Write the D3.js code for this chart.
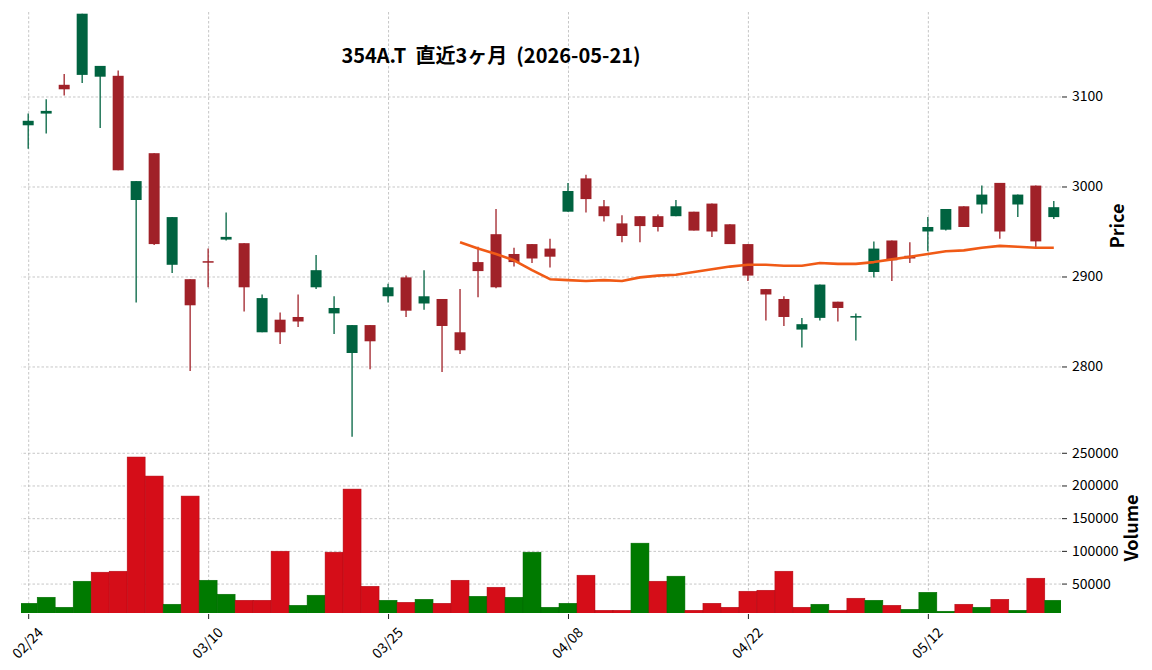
<!DOCTYPE html>
<html>
<head>
<meta charset="utf-8">
<script src="https://cdn.jsdelivr.net/npm/d3@7"></script>
<style>
  body { margin: 0; background: #fff; }
  text { font-family: "Noto Sans CJK JP", "Noto Sans", sans-serif; }
</style>
</head>
<body>
<div id="chart"></div>
<script>
// trading days (MM/DD), 2026-02-24 .. 2026-05-21
var dates = ["02/24","02/25","02/26","02/27","03/02","03/03","03/04","03/05","03/06","03/09",
  "03/10","03/11","03/12","03/13","03/16","03/17","03/18","03/19","03/23","03/24",
  "03/25","03/26","03/27","03/30","03/31","04/01","04/02","04/03","04/06","04/07",
  "04/08","04/09","04/10","04/13","04/14","04/15","04/16","04/17","04/20","04/21",
  "04/22","04/23","04/24","04/27","04/28","04/30","05/01","05/07","05/08","05/11",
  "05/12","05/13","05/14","05/15","05/18","05/19","05/20","05/21"];

var opens  = [3068,3081,3113,3124,3122,3123,2985,3037,2913,2897,
  2917,2941,2937,2838,2852,2855,2888,2859,2815,2846,
  2878,2899,2870,2875,2838,2916,2947,2925,2936,2931,
  2972,3009,2978,2959,2967,2967,2967,2972,2981,2958,
  2936,2886,2875,2841,2854,2872,2855,2905,2940,2923,
  2950,2952,2978,2980,3004,2980,3001,2966];
var highs  = [3081,3097,3125,3192,3134,3129,3006,3037,2966,2897,
  2931,2971,2937,2880,2860,2880,2924,2878,2846,2846,
  2892,2901,2907,2875,2886,2933,2975,2932,2936,2942,
  3004,3013,2985,2968,2967,2969,2985,2972,2981,2958,
  2936,2886,2878,2854,2891,2872,2859,2939,2940,2938,
  2966,2975,2978,3001,3004,2991,3001,2984];
var lows   = [3042,3059,3101,3115,3065,3018,2871,2935,2904,2795,
  2888,2940,2861,2838,2825,2844,2886,2836,2722,2797,
  2871,2855,2863,2794,2814,2877,2887,2911,2915,2910,
  2972,2971,2961,2938,2938,2950,2967,2951,2944,2936,
  2895,2851,2845,2821,2851,2850,2829,2899,2895,2915,
  2928,2951,2955,2970,2942,2966,2931,2964];
var closes = [3073,3084,3108,3192,3134,3018,3006,2936,2966,2868,
  2916,2944,2888,2876,2838,2850,2907,2865,2846,2828,
  2888,2862,2878,2845,2818,2906,2888,2916,2920,2922,
  2995,2986,2967,2945,2956,2955,2978,2951,2950,2936,
  2901,2880,2855,2847,2891,2865,2856,2931,2918,2920,
  2955,2975,2955,2991,2950,2991,2939,2977];
var volumes = [19900,29100,13800,53600,67400,68900,243500,214400,18400,183800,
  55100,33700,24500,24500,99500,16800,32200,98000,194500,45900,
  24500,21400,26000,19900,55100,30600,44400,29100,98000,13800,
  19900,62800,9200,9200,111800,53600,61300,9200,19900,13800,
  38300,39800,68900,13800,18400,9200,27600,24500,16800,10700,
  36700,7700,18400,13800,26000,9200,58200,24500];
// 25-day moving average as drawn (starts at the 25th session)
var ma25 = [null,null,null,null,null,null,null,null,null,null,
  null,null,null,null,null,null,null,null,null,null,
  null,null,null,null,2938,2931,2925,2918,2907,2897,
  2896,2895,2896,2895,2899,2901,2902,2905,2908,2911,
  2913,2913,2912,2912,2915,2914,2914,2916,2919,2922,
  2925,2928,2929,2932,2934,2933,2932,2932];
var priceTicks = [2800, 2900, 3000, 3100];
var volumeTicks = [50000, 100000, 150000, 200000, 250000];
var dateTickIdx = [0, 10, 20, 30, 40, 50];
var title = "354A.T  直近3ヶ月  (2026-05-21)";

var W = 1152, H = 670;
var left = 21, right = 1061;
var priceTop = 11, priceBottom = 441;
var volTop = 441, volBottom = 613;

var upCandle = "#006340", downCandle = "#a02128";
var upVol = "#007a00", downVol = "#d50d18";

var svg = d3.select("#chart").append("svg")
  .attr("width", W).attr("height", H)
  .style("background", "#fff");

var n = dates.length;
var xx = d3.scaleLinear().domain([-0.4, n - 1 + 0.4]).range([left, right]);
var step = xx(1) - xx(0);
var yy = d3.scaleLinear().domain([2717.2, 3195]).range([priceBottom, priceTop]);
var vy = d3.scaleLinear().domain([5000, 268000]).range([volBottom, volTop]);

var gridStyle = function(g) {
  g.select(".domain").remove();
  g.selectAll(".tick line").attr("stroke", "#b8b8b8").attr("stroke-width", 0.8)
    .attr("stroke-dasharray", "2.5,2");
  g.selectAll(".tick text").remove();
};

// grids
svg.append("g").attr("transform", "translate(0," + volBottom + ")")
  .call(d3.axisBottom(xx).tickValues(dateTickIdx).tickSize(-(volBottom - priceTop)))
  .call(gridStyle);
svg.append("g").attr("transform", "translate(" + right + ",0)")
  .call(d3.axisLeft(yy).tickValues(priceTicks).tickSize(right - left))
  .call(gridStyle);
svg.append("g").attr("transform", "translate(" + right + ",0)")
  .call(d3.axisLeft(vy).tickValues(volumeTicks).tickSize(right - left))
  .call(gridStyle);

// volume bars
svg.append("clipPath").attr("id", "vclip").append("rect")
  .attr("x", left).attr("y", volTop).attr("width", right - left).attr("height", volBottom - volTop);
var volUp = function(i) { return i === 0 ? closes[0] >= opens[0] : closes[i] >= closes[i - 1]; };
svg.append("g").attr("clip-path", "url(#vclip)")
  .selectAll("rect").data(volumes).enter().append("rect")
  .attr("x", function(d, i) { return xx(i) - step / 2; })
  .attr("width", step)
  .attr("y", function(d) { return vy(d); })
  .attr("height", function(d) { return vy(0) - vy(d); })
  .attr("fill", function(d, i) { return volUp(i) ? upVol : downVol; })
  .attr("stroke", function(d, i) { return volUp(i) ? "#006a00" : "#b00a14"; })
  .attr("stroke-width", 0.5);

// candles
var idx = d3.range(n);
var bodyW = step * 0.61;
var candleColor = function(i) { return closes[i] >= opens[i] ? upCandle : downCandle; };
svg.append("g").selectAll("line").data(idx).enter().append("line")
  .attr("x1", function(i) { return xx(i); })
  .attr("x2", function(i) { return xx(i); })
  .attr("y1", function(i) { return yy(highs[i]); })
  .attr("y2", function(i) { return yy(lows[i]); })
  .attr("stroke", candleColor)
  .attr("stroke-width", 1.3);
svg.append("g").selectAll("rect").data(idx).enter().append("rect")
  .attr("x", function(i) { return xx(i) - bodyW / 2; })
  .attr("width", bodyW)
  .attr("y", function(i) { return yy(Math.max(opens[i], closes[i])); })
  .attr("height", function(i) { return Math.max(1.5, Math.abs(yy(opens[i]) - yy(closes[i]))); })
  .attr("fill", candleColor);

// moving average
svg.append("path")
  .datum(idx.filter(function(i) { return ma25[i] !== null; }))
  .attr("fill", "none")
  .attr("stroke", "#f05a16")
  .attr("stroke-width", 2.6)
  .attr("stroke-linejoin", "round")
  .attr("d", d3.line()
    .x(function(i) { return xx(i); })
    .y(function(i) { return yy(ma25[i]); }));

// axes
var axisStyle = function(g) {
  g.select(".domain").remove();
  g.selectAll(".tick line").attr("stroke", "#222").attr("stroke-width", 1);
  g.selectAll(".tick text").attr("fill", "#000")
    .style("font-family", '"Noto Sans CJK JP", sans-serif').style("font-size", "14px");
};
svg.append("g").attr("transform", "translate(" + (right + 1) + ",0)")
  .call(d3.axisRight(yy).tickValues(priceTicks).tickSize(5).tickPadding(5).tickFormat(d3.format("d")))
  .call(axisStyle);
svg.append("g").attr("transform", "translate(" + (right + 1) + ",0)")
  .call(d3.axisRight(vy).tickValues(volumeTicks).tickSize(5).tickPadding(5).tickFormat(d3.format("d")))
  .call(axisStyle);

var xAxis = svg.append("g").attr("transform", "translate(0," + (volBottom + 1) + ")")
  .call(d3.axisBottom(xx).tickValues(dateTickIdx).tickSize(5).tickFormat(function(d) { return dates[d]; }))
  .call(axisStyle);
xAxis.selectAll(".tick text")
  .attr("y", 0).attr("dy", "0.35em")
  .style("text-anchor", "middle")
  .attr("transform", "translate(-1,29) rotate(-45)");

// axis labels
svg.append("text")
  .attr("transform", "translate(1124," + ((priceTop + priceBottom) / 2) + ") rotate(-90)")
  .attr("text-anchor", "middle")
  .style("font-size", "18px").style("font-weight", "bold")
  .text("Price");
svg.append("text")
  .attr("transform", "translate(1138," + ((volTop + volBottom) / 2 + 1) + ") rotate(-90)")
  .attr("text-anchor", "middle")
  .style("font-size", "18px").style("font-weight", "bold")
  .text("Volume");

// title
svg.append("text")
  .attr("x", 491).attr("y", 63)
  .attr("text-anchor", "middle")
  .style("font-size", "20px").style("font-weight", "bold")
  .style("white-space", "pre")
  .attr("xml:space", "preserve")
  .text(title);
</script>
</body>
</html>
